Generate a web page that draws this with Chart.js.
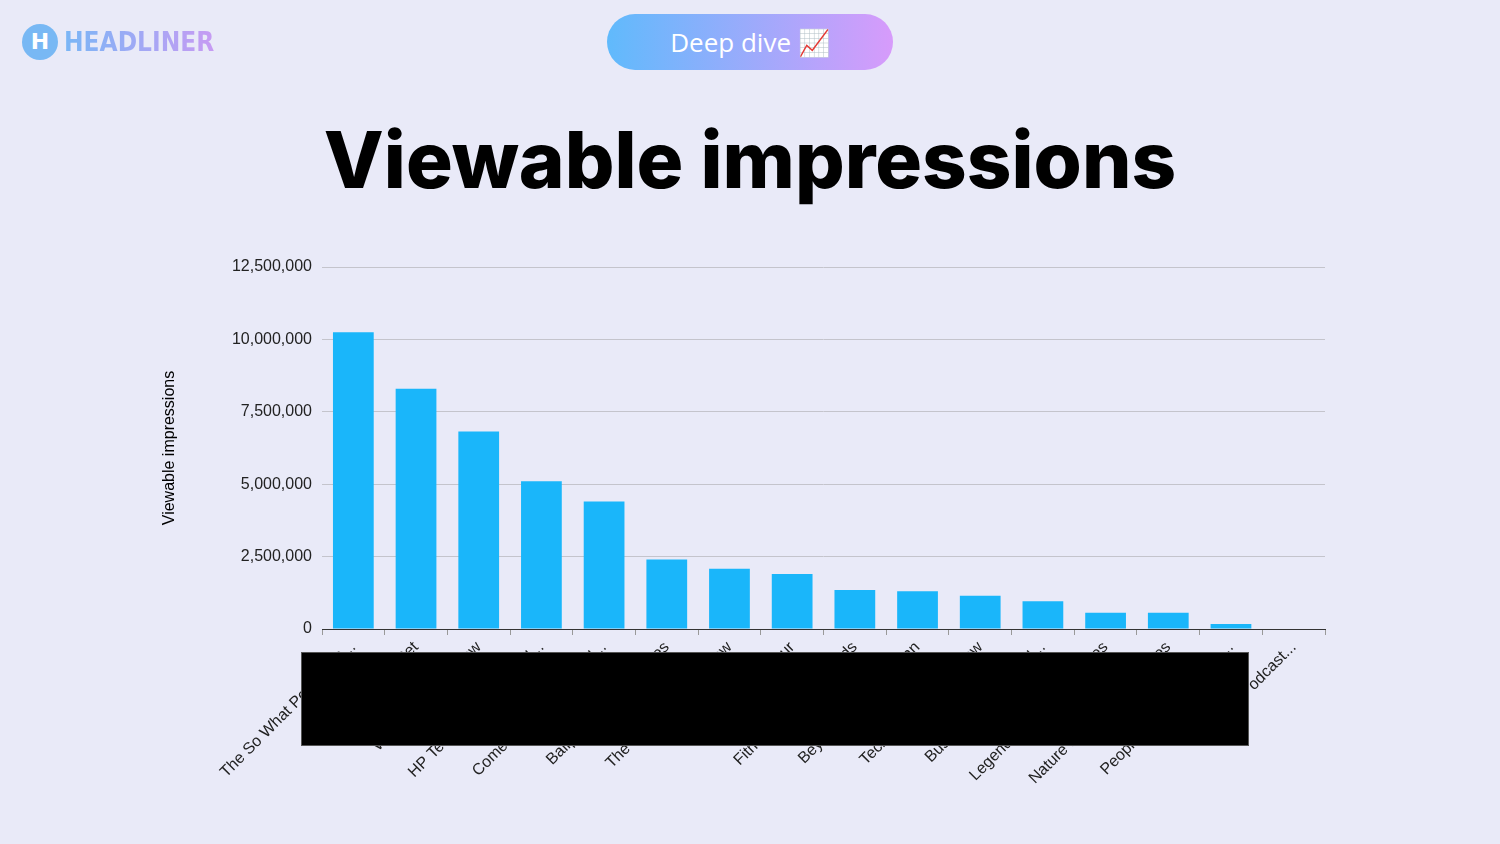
<!DOCTYPE html>
<html><head><meta charset="utf-8">
<script src="https://cdn.jsdelivr.net/npm/chart.js@4"></script>
<style>
body{margin:0;width:1500px;height:844px;background:#e9eaf8;position:relative;overflow:hidden;font-family:"Liberation Sans",Arial,sans-serif}
#logo{position:absolute;left:22px;top:24px;display:flex;align-items:center;gap:6px}
#logo .c{width:36px;height:36px;border-radius:50%;background:#78b8f4;color:#fff;font:bold 22px "DejaVu Sans";text-align:center;line-height:36px}
#logo .t{font:bold 26px "DejaVu Sans Condensed","DejaVu Sans";background:linear-gradient(90deg,#7ab6f6,#c79bf3);-webkit-background-clip:text;color:transparent}
#pill{position:absolute;left:607px;top:14px;width:286px;height:56px;border-radius:28px;background:linear-gradient(90deg,#60bafc,#d79bfb);color:#fff;font:500 26px "Open Sans";text-align:center;line-height:56px}
h1{position:absolute;top:112px;left:0;width:1500px;margin:0;text-align:center;font:800 78px Inter,"Open Sans";color:#000}
#wrap{position:absolute;left:160px;top:240px;width:1200px;height:560px}
#box{position:absolute;left:301px;top:652px;width:946px;height:92px;background:#000;border:1px solid #555}
</style></head><body>
<div id="logo"><div class="c">H</div><div class="t">HEADLINER</div></div>
<div id="pill">Deep dive 📈</div>
<h1>Viewable impressions</h1>
<div id="wrap"><canvas id="c" width="1200" height="560"></canvas></div>
<div id="box"></div>
<script>
const categories = ["The So What Podcast S...","Morning Market Set","Weekly Digest Show","HP Tech Talk Show Pod...","Comedy Hour Club Pod...","Ballpark Stories Stories","The Weekly Wrap Show","Daily Money Hour","Fitness Friends Friends","Beyond the Bean Bean","Tech Tonic Radio Show","Business Basics Pod...","Legends & Heroes Heroes","Mindful Minutes","Nature Notes Nature Notes","People & Places Podca...","Weekly Podcast..."];
const impressions = [10250000,8300000,6820000,5100000,4400000,2400000,2080000,1900000,1350000,1300000,1150000,960000,560000,560000,170000,20000];
categories.splice(13,1);

new Chart(document.getElementById('c'), {
  type: 'bar',
  data: { labels: categories, datasets: [{ data: impressions, backgroundColor: '#1ab6fa', barPercentage: 0.65, categoryPercentage: 1 }] },
  options: {
    responsive: false, animation: false,
    layout: { padding: { right: 35, top: 27, left: 0, bottom: 0 } },
    plugins: { legend: { display: false }, tooltip: { enabled: false } },
    scales: {
      y: { min: 0, max: 12500000, ticks: { stepSize: 2500000, color: '#222', font: { size: 16, family: 'Liberation Sans' }, padding: 10, callback: v => v.toLocaleString('en-US') },
           grid: { color: '#c4c4cc', drawTicks: false }, border: { display: false },
           afterFit: s => { s.width = 162; },
           title: { display: true, text: 'Viewable impressions', color: '#000', font: { size: 16, family: 'Liberation Sans' }, padding: { top: 0, bottom: 15 } } },
      x: { ticks: { minRotation: 45, maxRotation: 45, autoSkip: false, color: '#222', font: { size: 16, family: 'Liberation Sans' } },
           grid: { display: true, offset: true, drawOnChartArea: false, tickLength: 6, color: '#999' }, border: { color: '#333' },
           afterFit: s => { s.height = 171; } }
    }
  }
});
</script>
</body></html>
